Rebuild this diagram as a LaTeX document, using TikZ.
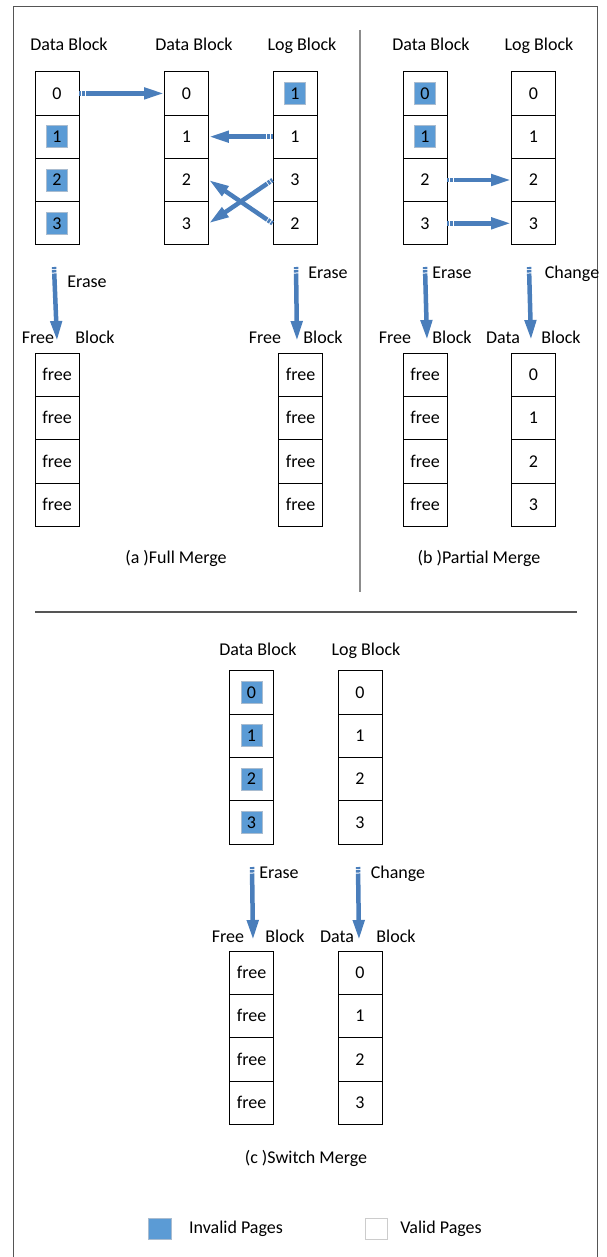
\documentclass[tikz,border=0pt]{standalone}
\usepackage{fontspec}
\setmainfont{Carlito}
\usetikzlibrary{arrows.meta}
\definecolor{invblue}{HTML}{5B9BD5}
\definecolor{invedge}{HTML}{A9BCD0}
\definecolor{arrblue}{HTML}{4A7EBB}
\definecolor{sepgray}{HTML}{8C8C8C}
\definecolor{framegray}{HTML}{555555}
\begin{document}
\begin{tikzpicture}[x=1pt,y=1pt,
  txt/.style={font=\fontsize{18}{21}\selectfont, inner sep=0pt, text height=15.6pt, text depth=4pt},
  cell/.style={draw, line width=0.9pt, minimum width=44pt, minimum height=43.3pt, inner sep=0pt, txt},
  inv/.style={cell, path picture={\filldraw[fill=invblue,draw=invedge,line width=0.8pt]
      ([shift={(-10.5pt,-11pt)}]path picture bounding box.center) rectangle
      ([shift={(10.5pt,11pt)}]path picture bounding box.center);}},
  flow/.style={draw=arrblue, line width=4.5pt, dash pattern=on 2pt off 1pt on 2.5pt off 1pt on 2000pt,
      -{Triangle[length=20pt,width=11pt]}},
  frame/.style={draw=framegray, line width=1pt},
  sep/.style={draw=sepgray, line width=1.2pt},
  hsep/.style={draw=framegray, line width=1.2pt},
]
\useasboundingbox (0,0) rectangle (606,-1257);
% outer frame (bottom is cut off)
\draw[frame] (13,-1257) -- (13,-7) -- (597,-7) -- (597,-1257);
% separators
\draw[sep] (360,-30) -- (360,-592);
\draw[hsep] (35,-612) -- (577,-612);

% ---------------- (a) Full Merge ----------------
\node[txt] (aL1) at (69,-45) {Data Block};
\node[txt] (aL2) at (194,-45) {Data Block};
\node[txt] (aL3) at (302,-45) {Log Block};
\foreach \i/\t/\s in {0/0/cell,1/1/inv,2/2/inv,3/3/inv}
  \node[\s] (fa\i) at (57,-93.4-43.3*\i) {\t};
\foreach \i/\t/\s in {0/0/cell,1/1/cell,2/2/cell,3/3/cell}
  \node[\s] (fb\i) at (186.5,-93.4-43.3*\i) {\t};
\foreach \i/\t/\s in {0/1/inv,1/1/cell,2/3/cell,3/2/cell}
  \node[\s] (fc\i) at (295,-93.4-43.3*\i) {\t};
\draw[flow] (fa0.east) -- (fb0.west);
\draw[flow] (fc1.west) -- (fb1.east);
\draw[flow] (fc2.west) -- (fb3.east);
\draw[flow] (fc3.west) -- (fb2.east);

\coordinate (aE1s) at (54,-267);
\coordinate (aE1e) at (57,-341);
\draw[flow] (aE1s) -- (aE1e);
\node[txt] (aErase1) at (87,-282) {Erase};
\coordinate (aE2s) at (296,-267);
\coordinate (aE2e) at (297,-341);
\draw[flow] (aE2s) -- (aE2e);
\node[txt] (aErase2) at (328,-273) {Erase};

\node[txt] (aF1) at (38,-338) {Free};
\node[txt] (aB1) at (95,-338) {Block};
\node[txt] (aF2) at (265,-338) {Free};
\node[txt] (aB2) at (323,-338) {Block};
\foreach \i in {0,1,2,3}
  \node[cell] (fd\i) at (57,-374.7-43.3*\i) {free};
\foreach \i in {0,1,2,3}
  \node[cell] (fe\i) at (300.5,-374.7-43.3*\i) {free};
\node[txt] (capA) at (176,-558) {(a )Full Merge};

% ---------------- (b) Partial Merge ----------------
\node[txt] (bL1) at (431,-45) {Data Block};
\node[txt] (bL2) at (539,-45) {Log Block};
\foreach \i/\t/\s in {0/0/inv,1/1/inv,2/2/cell,3/3/cell}
  \node[\s] (pa\i) at (425,-93.4-43.3*\i) {\t};
\foreach \i/\t/\s in {0/0/cell,1/1/cell,2/2/cell,3/3/cell}
  \node[\s] (pb\i) at (533.5,-93.4-43.3*\i) {\t};
\draw[flow] (pa2.east) -- (pb2.west);
\draw[flow] (pa3.east) -- (pb3.west);

\coordinate (bE1s) at (425,-267);
\coordinate (bE1e) at (427,-340);
\draw[flow] (bE1s) -- (bE1e);
\node[txt] (bErase) at (452,-273) {Erase};
\coordinate (bE2s) at (529,-267);
\coordinate (bE2e) at (531,-340);
\draw[flow] (bE2s) -- (bE2e);
\node[txt] (bChange) at (572,-273) {Change};

\node[txt] (bF) at (395,-338) {Free};
\node[txt] (bB1) at (452,-338) {Block};
\node[txt] (bD) at (503,-338) {Data};
\node[txt] (bB2) at (561,-338) {Block};
\foreach \i in {0,1,2,3}
  \node[cell] (pc\i) at (425,-374.7-43.3*\i) {free};
\foreach \i/\t in {0/0,1/1,2/2,3/3}
  \node[cell] (pd\i) at (533.5,-374.7-43.3*\i) {\t};
\node[txt] (capB) at (479,-558) {(b )Partial Merge};

% ---------------- (c) Switch Merge ----------------
\node[txt] (cL1) at (258,-650) {Data Block};
\node[txt] (cL2) at (366,-650) {Log Block};
\foreach \i/\t in {0/0,1/1,2/2,3/3}
  \node[inv] (sa\i) at (251.5,-692.4-43.3*\i) {\t};
\foreach \i/\t in {0/0,1/1,2/2,3/3}
  \node[cell] (sb\i) at (360,-692.4-43.3*\i) {\t};

\coordinate (cE1s) at (252,-867);
\coordinate (cE1e) at (253,-940);
\draw[flow] (cE1s) -- (cE1e);
\node[txt] (cErase) at (279,-873) {Erase};
\coordinate (cE2s) at (358,-867);
\coordinate (cE2e) at (359,-940);
\draw[flow] (cE2s) -- (cE2e);
\node[txt] (cChange) at (398,-873) {Change};

\node[txt] (cF) at (228,-937) {Free};
\node[txt] (cB1) at (285,-937) {Block};
\node[txt] (cD) at (337,-937) {Data};
\node[txt] (cB2) at (396,-937) {Block};
\foreach \i in {0,1,2,3}
  \node[cell] (sc\i) at (251.5,-972.7-43.3*\i) {free};
\foreach \i/\t in {0/0,1/1,2/2,3/3}
  \node[cell] (sd\i) at (360,-972.7-43.3*\i) {\t};
\node[txt] (capC) at (306,-1158) {(c )Switch Merge};

% ---------------- legend ----------------
\node[draw=invedge, fill=invblue, line width=0.8pt, minimum width=23pt, minimum height=21pt, inner sep=0pt] (legInv) at (159.5,-1228.5) {};
\node[txt] (legInvT) at (236,-1228) {Invalid Pages};
\node[draw=black!20, fill=white, line width=0.8pt, minimum width=22pt, minimum height=21pt, inner sep=0pt] (legVal) at (376,-1228.5) {};
\node[txt] (legValT) at (441,-1228) {Valid Pages};
\end{tikzpicture}
\end{document}
